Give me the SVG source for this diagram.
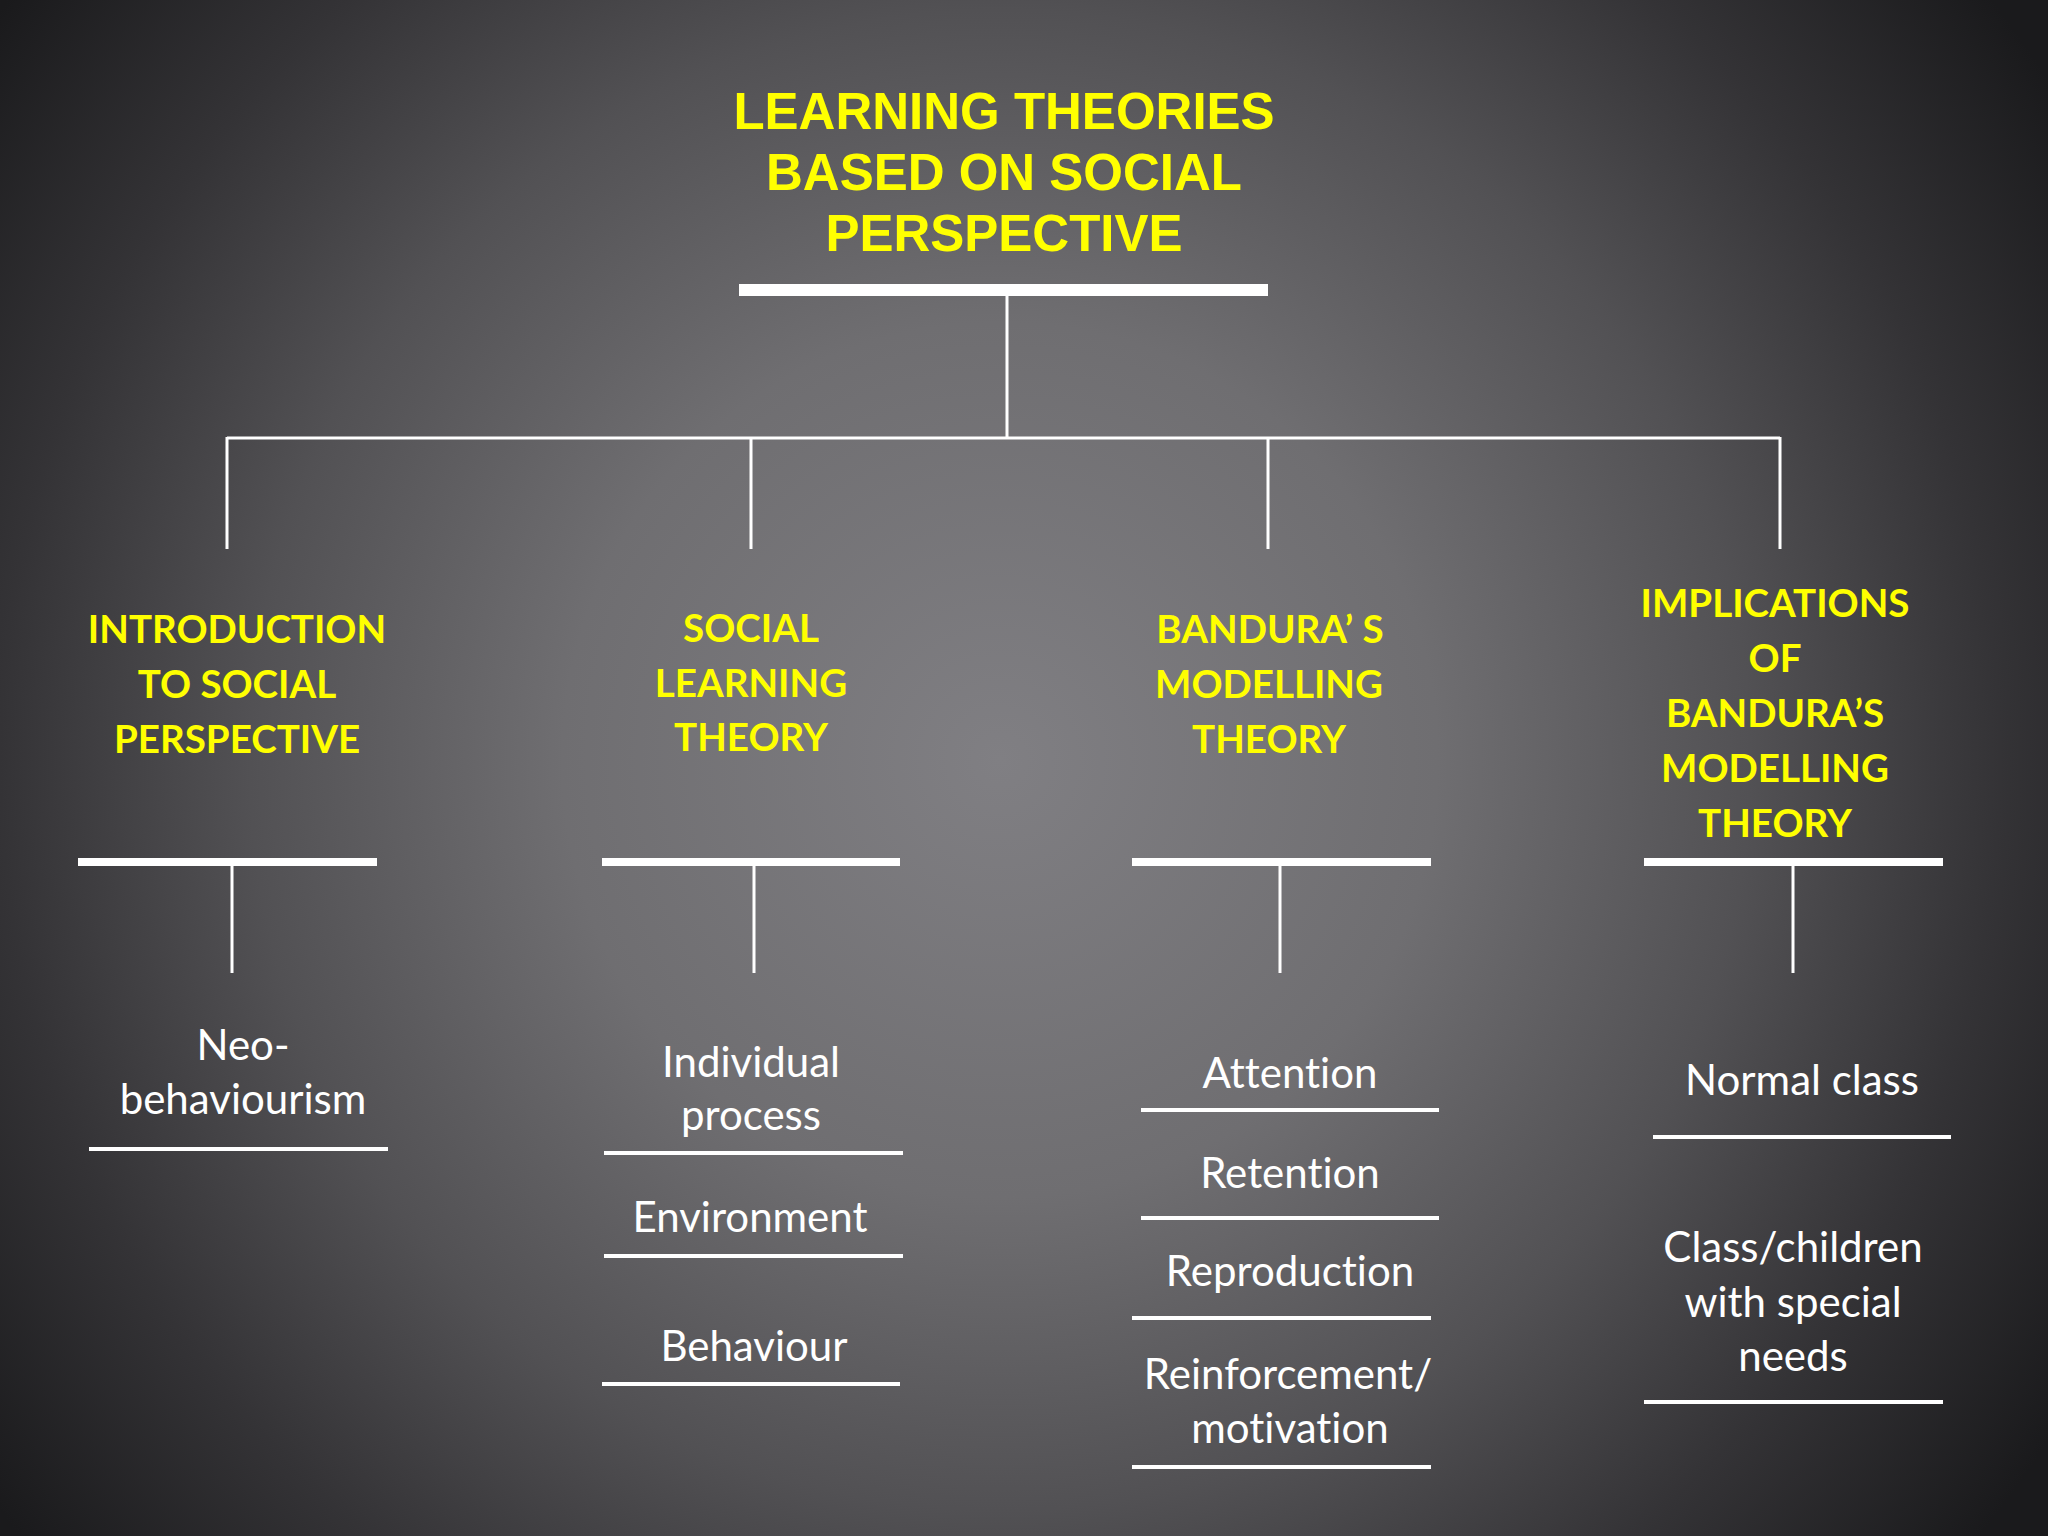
<svg xmlns="http://www.w3.org/2000/svg" width="2048" height="1536" viewBox="0 0 2048 1536">
<defs>
<radialGradient id="bg" gradientUnits="userSpaceOnUse" cx="1000" cy="760" r="1250">
<stop offset="0" stop-color="#807f83"/>
<stop offset="0.35" stop-color="#6f6e71"/>
<stop offset="0.6" stop-color="#525154"/>
<stop offset="0.8" stop-color="#343336"/>
<stop offset="1" stop-color="#1a1a1c"/>
</radialGradient>
<style>
.title{font-family:"Liberation Sans",Arial,sans-serif;font-weight:bold;font-size:51px;fill:#ffff00;text-anchor:middle}
.head{font-family:Lato,"Open Sans",sans-serif;font-weight:bold;font-size:38.5px;fill:#ffff00;text-anchor:middle;font-variant-ligatures:none}
.item{font-family:Lato,"Open Sans",sans-serif;font-size:42px;fill:#ffffff;text-anchor:middle;font-variant-ligatures:none}
.bar{fill:#ffffff}
.conn{stroke:#ffffff;stroke-width:3;fill:none}
.ul{stroke:#ffffff;stroke-width:4}
</style>
</defs>
<rect width="2048" height="1536" fill="url(#bg)"/>

<g id="connectors">
<path class="conn" d="M1007 296V438M227 438H1780M227 437V549M751 437V549M1268 437V549M1780 437V549"/>
<path class="conn" d="M232 866V973M754 866V973M1280 866V973M1793 866V973"/>
</g>

<g id="title">
<text class="title" x="1004" y="129">LEARNING THEORIES</text>
<text class="title" x="1004" y="190">BASED ON SOCIAL</text>
<text class="title" x="1004" y="251">PERSPECTIVE</text>
<rect class="bar" x="739" y="284" width="529" height="12"/>
</g>

<g id="intro">
<text class="head" x="237" y="643">INTRODUCTION</text>
<text class="head" x="237" y="698">TO SOCIAL</text>
<text class="head" x="237" y="753">PERSPECTIVE</text>
<rect class="bar" x="78" y="858" width="299" height="8"/>
</g>

<g id="social-learning">
<text class="head" x="751" y="642">SOCIAL</text>
<text class="head" x="751" y="697">LEARNING</text>
<text class="head" x="751" y="751">THEORY</text>
<rect class="bar" x="602" y="858" width="298" height="8"/>
</g>

<g id="bandura">
<text class="head" x="1270" y="643">BANDURA’ S</text>
<text class="head" x="1269" y="698">MODELLING</text>
<text class="head" x="1269" y="753">THEORY</text>
<rect class="bar" x="1132" y="858" width="299" height="8"/>
</g>

<g id="implications">
<text class="head" x="1775" y="617">IMPLICATIONS</text>
<text class="head" x="1775" y="672">OF</text>
<text class="head" x="1775" y="727">BANDURA’S</text>
<text class="head" x="1775" y="782">MODELLING</text>
<text class="head" x="1775" y="837">THEORY</text>
<rect class="bar" x="1644" y="858" width="299" height="8"/>
</g>

<g id="neo">
<text class="item" x="243" y="1060">Neo-</text>
<text class="item" x="243" y="1114">behaviourism</text>
<line class="ul" x1="89" y1="1149" x2="388" y2="1149"/>
</g>

<g id="individual">
<text class="item" x="751" y="1077">Individual</text>
<text class="item" x="751" y="1130">process</text>
<line class="ul" x1="604" y1="1153" x2="903" y2="1153"/>
</g>
<g id="environment">
<text class="item" x="750" y="1232">Environment</text>
<line class="ul" x1="604" y1="1256" x2="903" y2="1256"/>
</g>
<g id="behaviour">
<text class="item" x="754" y="1361">Behaviour</text>
<line class="ul" x1="602" y1="1384" x2="900" y2="1384"/>
</g>

<g id="attention">
<text class="item" x="1290" y="1088">Attention</text>
<line class="ul" x1="1141" y1="1110" x2="1439" y2="1110"/>
</g>
<g id="retention">
<text class="item" x="1290" y="1188">Retention</text>
<line class="ul" x1="1141" y1="1218" x2="1439" y2="1218"/>
</g>
<g id="reproduction">
<text class="item" x="1290" y="1286">Reproduction</text>
<line class="ul" x1="1132" y1="1318" x2="1431" y2="1318"/>
</g>
<g id="reinforcement">
<text class="item" x="1288" y="1389">Reinforcement/</text>
<text class="item" x="1290" y="1443">motivation</text>
<line class="ul" x1="1132" y1="1467" x2="1431" y2="1467"/>
</g>

<g id="normal-class">
<text class="item" x="1802" y="1095">Normal class</text>
<line class="ul" x1="1653" y1="1137" x2="1951" y2="1137"/>
</g>
<g id="special-needs">
<text class="item" x="1793" y="1262">Class/children</text>
<text class="item" x="1793" y="1317">with special</text>
<text class="item" x="1793" y="1371">needs</text>
<line class="ul" x1="1644" y1="1402" x2="1943" y2="1402"/>
</g>
</svg>
